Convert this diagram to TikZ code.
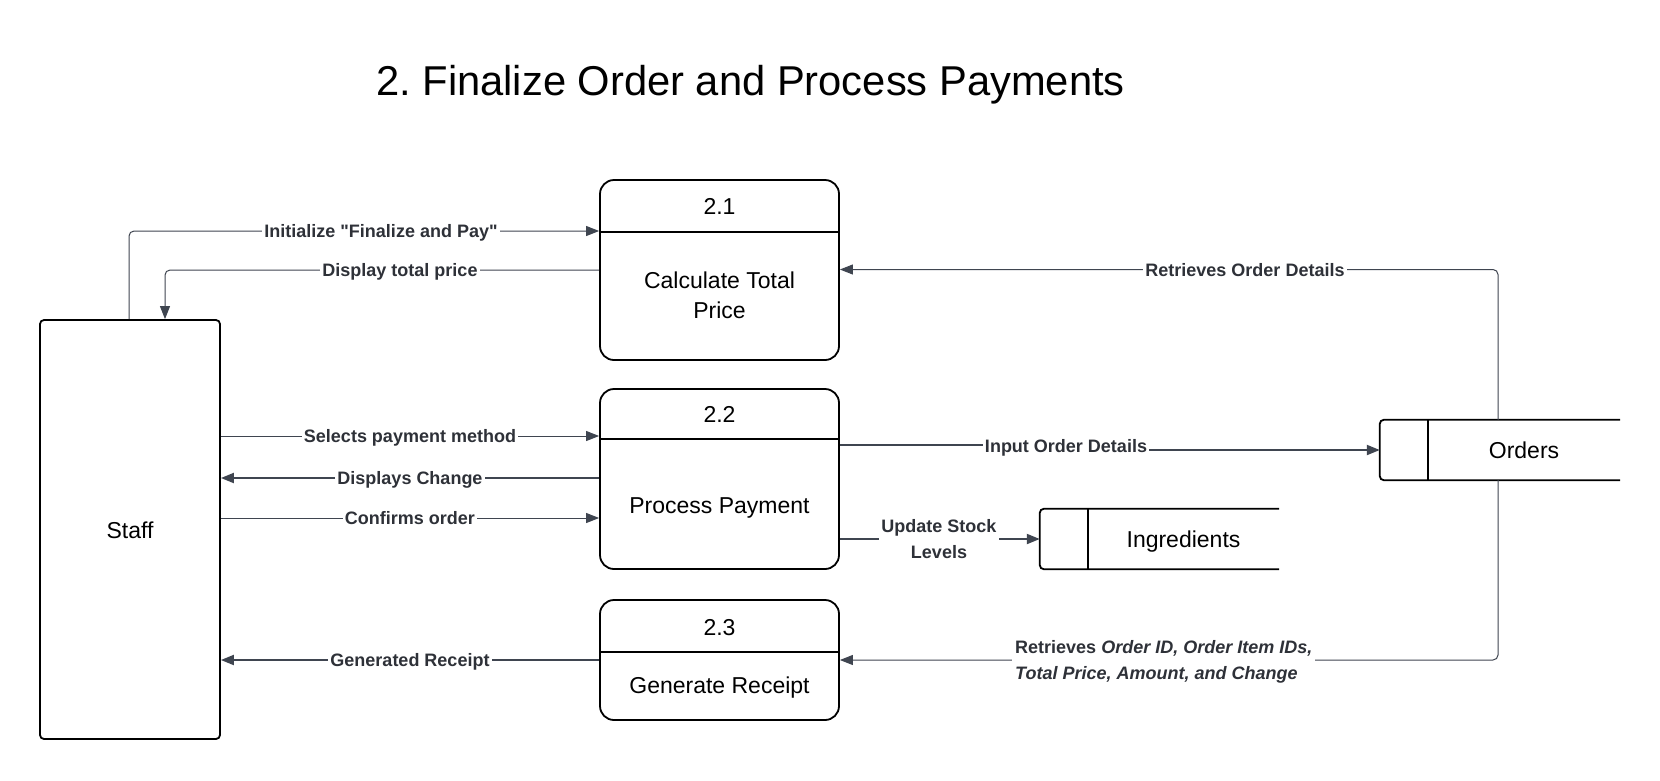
\documentclass[tikz,border=0pt]{standalone}
\usepackage{fontspec}
\setmainfont{Liberation Sans}[Ligatures=TeXOff]
\usetikzlibrary{arrows.meta}
\definecolor{lnc}{HTML}{3F4550}
\definecolor{lblc}{HTML}{2E3138}
\frenchspacing
\begin{document}
\begin{tikzpicture}[x=1pt,y=-1pt,
  procbox/.style={draw=black, line width=1.8pt, rounded corners=14pt, minimum width=239pt, inner sep=0pt},
  entbox/.style={draw=black, line width=1.8pt, rounded corners=4pt, minimum width=180pt, minimum height=419pt, inner sep=0pt},
  storebox/.style={minimum width=240pt, minimum height=60pt, inner sep=0pt},
  storeline/.style={draw=black, line width=1.8pt, rounded corners=4pt},
  divline/.style={draw=black, line width=1.8pt},
  bodytxt/.style={font=\fontsize{23}{28}\selectfont, anchor=base, inner sep=0pt},
  lbl/.style={font=\fontsize{18}{22}\selectfont\bfseries, text=lblc, fill=white, inner xsep=2pt, inner ysep=2pt, anchor=base},
  tip/.style={-{Triangle[length=13pt,width=10pt]}},
  thinflow/.style={draw=lnc, line width=1pt, tip},
  thickflow/.style={draw=lnc, line width=2pt, tip}
]
\fill[white] (0,0) rectangle (1660,780);
\useasboundingbox (0,0) rectangle (1660,780);

% title
\node[anchor=base, font=\fontsize{41.7}{50}\selectfont, inner sep=0pt] (title) at (750.5,95) {2. Finalize Order and Process Payments};

% entity
\node[entbox] (staff) at (130,529.5) {};
\node[bodytxt] (stafft) at (130,538) {Staff};

% processes
\node[procbox, minimum height=180pt] (p1) at (719.5,270) {};
\node[procbox, minimum height=180pt] (p2) at (719.5,479) {};
\node[procbox, minimum height=120pt] (p3) at (719.5,660) {};
\coordinate (d1) at (0,232);
\coordinate (d2) at (0,439);
\coordinate (d3) at (0,652);
\draw[divline] (p1.west |- d1) -- (p1.east |- d1);
\draw[divline] (p2.west |- d2) -- (p2.east |- d2);
\draw[divline] (p3.west |- d3) -- (p3.east |- d3);
\node[bodytxt] (p1n) at (719.5,214) {2.1};
\node[bodytxt] (p1a) at (719.5,288) {Calculate Total};
\node[bodytxt] (p1b) at (719.5,318) {Price};
\node[bodytxt] (p2n) at (719.5,422) {2.2};
\node[bodytxt] (p2a) at (719.5,513) {Process Payment};
\node[bodytxt] (p3n) at (719.5,635) {2.3};
\node[bodytxt] (p3a) at (719.5,693) {Generate Receipt};

% data stores
\node[storebox] (orders) at (1500,450) {};
\draw[storeline] (orders.north east) -- (orders.north west) -- (orders.south west) -- (orders.south east);
\draw[divline] ([xshift=48pt]orders.north west) -- ([xshift=48pt]orders.south west);
\node[bodytxt] (orderst) at (1524,458.5) {Orders};

\node[storebox, minimum width=239pt] (ingr) at (1159.5,539) {};
\draw[storeline] (ingr.north east) -- (ingr.north west) -- (ingr.south west) -- (ingr.south east);
\draw[divline] ([xshift=48pt]ingr.north west) -- ([xshift=48pt]ingr.south west);
\node[bodytxt] (ingrt) at (1183.5,547.5) {Ingredients};

% connectors
\coordinate (k1) at (129,231);
\draw[thinflow, rounded corners=5pt] (staff.north -| k1) |- (p1.west |- k1);
\coordinate (k2) at (165,270);
\draw[thinflow, rounded corners=5pt] (p1.west |- k2) -| (staff.north -| k2);
\coordinate (k3) at (1498,269.5);
\draw[thinflow, rounded corners=5pt] (orders.north -| k3) |- (p1.east |- k3);
\coordinate (k4) at (0,436);
\draw[thinflow] (staff.east |- k4) -- (p2.west |- k4);
\coordinate (k5) at (0,478);
\draw[thickflow] (p2.west |- k5) -- (staff.east |- k5);
\coordinate (k6) at (0,518);
\draw[thinflow] (staff.east |- k6) -- (p2.west |- k6);
\coordinate (k7a) at (1066,445);
\coordinate (k7b) at (1066,450);
\draw[thickflow] (p2.east |- k7a) -- (k7a) -- (k7b) -- (orders.west);
\draw[thickflow] (p2.east |- ingr.west) -- (ingr.west);
\coordinate (k9) at (1498,660);
\draw[thinflow, rounded corners=5pt] (orders.south -| k9) |- (p3.east);
\draw[thickflow] (p3.west) -- (staff.east |- p3.west);

% labels
\node[lbl] (l1) at (381,237.5) {Initialize "Finalize and Pay"};
\node[lbl] (l2) at (400,276.5) {Display total price};
\node[lbl] (l3) at (1245,276) {Retrieves Order Details};
\node[lbl] (l4) at (410,442.5) {Selects payment method};
\node[lbl] (l5) at (410,484.5) {Displays Change};
\node[lbl] (l6) at (410,524.5) {Confirms order};
\node[lbl] (l7) at (1066,452) {Input Order Details};
\node[lbl, anchor=center, align=center, font=\fontsize{18}{26}\selectfont\bfseries] (l8) at (939,539) {Update Stock\\Levels};
\node[lbl, anchor=west, align=left, inner xsep=3pt, font=\fontsize{18}{26}\selectfont\bfseries] (l9) at (1012,661.5) {Retrieves \textit{Order ID, Order Item IDs,}\\\textit{Total Price, Amount, and Change}};
\node[lbl] (l10) at (410,666.5) {Generated Receipt};
\end{tikzpicture}
\end{document}
